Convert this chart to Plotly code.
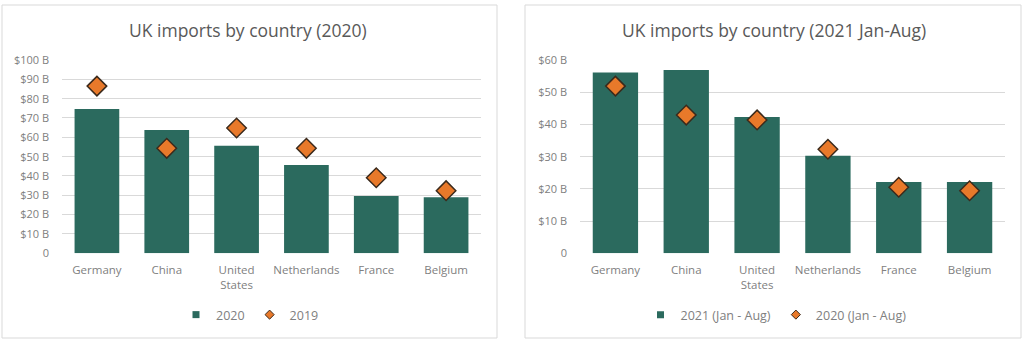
import plotly.graph_objects as go

countries = ["Germany", "China", "United<br>States", "Netherlands", "France", "Belgium"]

imports_2020 = [74.6, 63.8, 55.7, 45.7, 29.6, 29.0]
imports_2019 = [86.5, 54.3, 64.8, 54.3, 39.1, 32.4]

imports_2021_janaug = [56.1, 56.9, 42.3, 30.3, 22.1, 22.1]
imports_2020_janaug = [51.9, 42.9, 41.4, 32.3, 20.5, 19.4]

left_tickvals = [0, 10, 20, 30, 40, 50, 60, 70, 80, 90, 100]
left_ticktext = ["0", "$10 B", "$20 B", "$30 B", "$40 B", "$50 B", "$60 B", "$70 B", "$80 B", "$90 B", "$100 B"]
right_tickvals = [0, 10, 20, 30, 40, 50, 60]
right_ticktext = ["0", "$10 B", "$20 B", "$30 B", "$40 B", "$50 B", "$60 B"]

BAR = "#2b6a5e"
ORANGE = "#e8792a"
EDGE = "#3b2a1c"
GRID = "#d9d9d9"
TXT = "#808080"
FONT = "Open Sans"

W, H = 1024, 343

def px(x):
    return x / W

def py(y):
    return 1 - y / H

fig = go.Figure()

diamond = dict(symbol="diamond", size=15, color=ORANGE, line=dict(color=EDGE, width=1.5))

fig.add_trace(go.Bar(x=countries, y=imports_2020, name="2020", marker=dict(color=BAR, line=dict(width=0)),
                     xaxis="x", yaxis="y", showlegend=False))
fig.add_trace(go.Scatter(x=countries, y=imports_2019, name="2019", mode="markers", marker=diamond,
                         xaxis="x", yaxis="y", showlegend=False))
fig.add_trace(go.Bar(x=countries, y=imports_2021_janaug, name="2021 (Jan - Aug)", marker=dict(color=BAR, line=dict(width=0)),
                     xaxis="x2", yaxis="y2", showlegend=False))
fig.add_trace(go.Scatter(x=countries, y=imports_2020_janaug, name="2020 (Jan - Aug)", mode="markers", marker=diamond,
                         xaxis="x2", yaxis="y2", showlegend=False))

# legend-only entries with small symbols like the reference
leg_sq = dict(symbol="square", size=7, color=BAR, line=dict(width=0))
leg_dm = dict(symbol="diamond", size=7, color=ORANGE, line=dict(color=EDGE, width=1))
fig.add_trace(go.Scatter(x=[None], y=[None], mode="markers", name="2020", marker=leg_sq,
                         xaxis="x", yaxis="y", legend="legend"))
fig.add_trace(go.Scatter(x=[None], y=[None], mode="markers", name="2019", marker=leg_dm,
                         xaxis="x", yaxis="y", legend="legend"))
fig.add_trace(go.Scatter(x=[None], y=[None], mode="markers", name="2021 (Jan - Aug)", marker=leg_sq,
                         xaxis="x2", yaxis="y2", legend="legend2"))
fig.add_trace(go.Scatter(x=[None], y=[None], mode="markers", name="2020 (Jan - Aug)", marker=leg_dm,
                         xaxis="x2", yaxis="y2", legend="legend2"))

tickfont = dict(family=FONT, size=11, color=TXT)
xcommon = dict(showline=False, zeroline=False, showgrid=False, ticks="", automargin=False,
               tickfont=dict(family=FONT, size=11.5, color=TXT), ticklabelstandoff=8)
ycommon = dict(showline=False, zeroline=False, showgrid=True, gridcolor=GRID, gridwidth=1,
               automargin=False, tickfont=tickfont, ticklabelstandoff=12)

legfont = dict(family=FONT, size=12.5, color=TXT)

fig.update_layout(
    template="none",
    width=W, height=H, autosize=False,
    margin=dict(l=0, r=0, t=0, b=0, autoexpand=False),
    paper_bgcolor="white", plot_bgcolor="white",
    bargap=0.36,
    font=dict(family=FONT, color=TXT),
    xaxis=dict(domain=[px(62), px(481)], anchor="y", **xcommon),
    yaxis=dict(domain=[py(253.3), py(60)], range=[0, 100], tickvals=left_tickvals, ticktext=left_ticktext,
               anchor="x", **ycommon),
    xaxis2=dict(domain=[px(580), px(1005)], anchor="y2", **xcommon),
    yaxis2=dict(domain=[py(253.3), py(60)], range=[0, 60], tickvals=right_tickvals, ticktext=right_ticktext,
                anchor="x2", **ycommon),
    legend=dict(orientation="h", x=px(250), y=py(315), xanchor="center", yanchor="middle",
                font=legfont, itemwidth=30, bgcolor="rgba(0,0,0,0)"),
    legend2=dict(orientation="h", x=px(776), y=py(315), xanchor="center", yanchor="middle",
                 font=legfont, itemwidth=30, bgcolor="rgba(0,0,0,0)"),
    showlegend=True,
    shapes=[
        dict(type="rect", xref="paper", yref="paper", x0=px(2), x1=px(497), y0=py(338), y1=py(5),
             line=dict(color=GRID, width=1), layer="below"),
        dict(type="rect", xref="paper", yref="paper", x0=px(525), x1=px(1021), y0=py(338), y1=py(5),
             line=dict(color=GRID, width=1), layer="below"),
    ],
    annotations=[
        dict(text="UK imports by country (2020)", xref="paper", yref="paper", x=px(248), y=py(30),
             xanchor="center", yanchor="middle", showarrow=False,
             font=dict(family=FONT, size=17.5, color="#595959")),
        dict(text="UK imports by country (2021 Jan-Aug)", xref="paper", yref="paper", x=px(774), y=py(30),
             xanchor="center", yanchor="middle", showarrow=False,
             font=dict(family=FONT, size=17.5, color="#595959")),
    ],
)

fig.write_html("out.html")
